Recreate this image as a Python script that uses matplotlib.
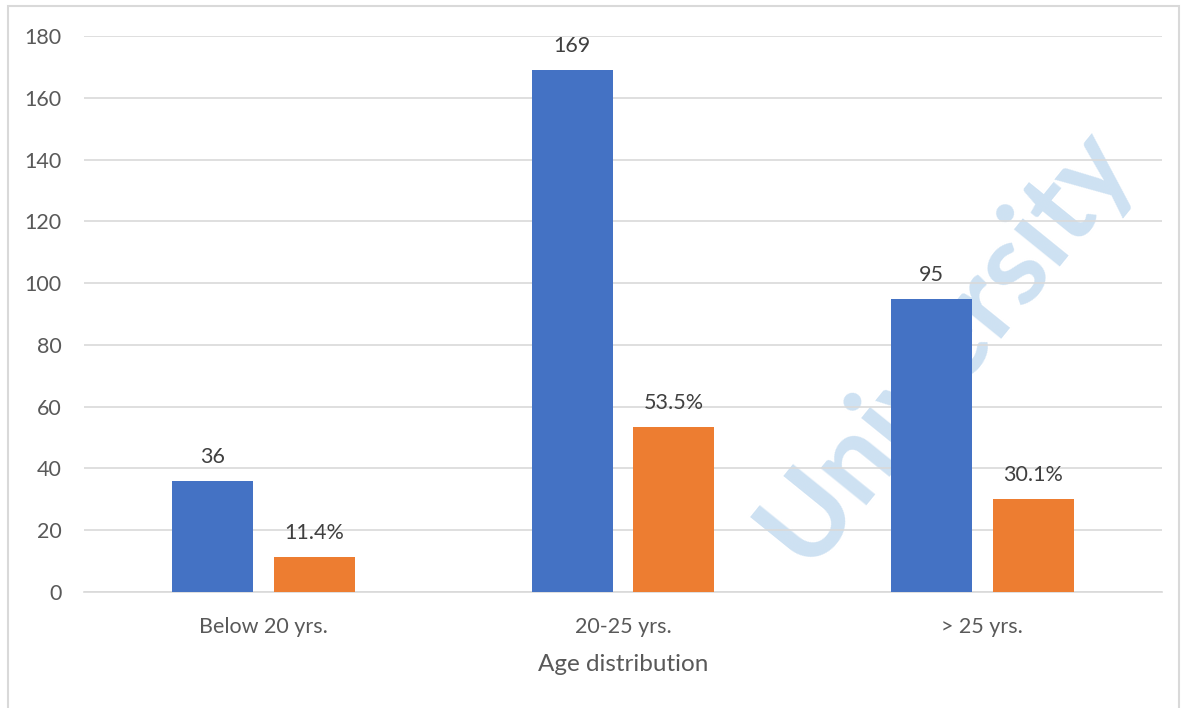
import matplotlib
matplotlib.use("Agg")
import matplotlib.pyplot as plt
from matplotlib.patches import Rectangle
import numpy as np

# Age groups and the two series
categories = ["Below 20 yrs.", "20-25 yrs.", "> 25 yrs."]
counts = [36, 169, 95]
percents = [11.4, 53.5, 30.1]
y_ticks = [0, 20, 40, 60, 80, 100, 120, 140, 160, 180]
x_title = "Age distribution"

plt.rcParams["font.family"] = ["Lato", "DejaVu Sans"]

fig = plt.figure(figsize=(11.82, 7.08), dpi=100)
ax = fig.add_axes([0.0711, 0.1638, 0.9120, 0.7853])

# Outer chart frame
fig.patches.append(Rectangle((8 / 1182, -0.02), (1179 - 8) / 1182, 1.02 - 6 / 708,
                             transform=fig.transFigure, fill=False,
                             edgecolor="#d9d9d9", linewidth=1.5, zorder=0))

x = np.arange(len(categories))
bw = 0.2255
gap = 0.058
off = (bw + gap) / 2

blue = "#4472c4"
orange = "#ed7d31"

bars1 = ax.bar(x - off, counts, width=bw, color=blue, zorder=3)
bars2 = ax.bar(x + off, percents, width=bw, color=orange, zorder=3)

for b, v in zip(bars1, counts):
    ax.annotate(f"{v}", (b.get_x() + b.get_width() / 2, v), xytext=(0, 10),
                textcoords="offset points", ha="center", va="bottom",
                fontsize=15.5, color="#404040", zorder=4)
for b, v in zip(bars2, percents):
    ax.annotate(f"{v:.1f}%", (b.get_x() + b.get_width() / 2, v), xytext=(0, 10),
                textcoords="offset points", ha="center", va="bottom",
                fontsize=15.5, color="#404040", zorder=4)

ax.set_xlim(-0.5, len(categories) - 0.5)
ax.set_ylim(0, 180)
ax.set_yticks(y_ticks)
ax.set_xticks(x)
ax.set_xticklabels(categories)
ax.tick_params(axis="both", length=0, labelsize=15.5, colors="#595959")
ax.tick_params(axis="x", pad=18)
ax.tick_params(axis="y", pad=16)
ax.grid(axis="y", color="#d9d9d9", linewidth=1.2, zorder=0)
ax.set_axisbelow(True)
for s in ["top", "right", "left"]:
    ax.spines[s].set_visible(False)
ax.spines["bottom"].set_color("#d9d9d9")
ax.spines["bottom"].set_linewidth(1.2)

ax.set_xlabel(x_title, fontsize=17.5, color="#595959", labelpad=12)

# Faint background watermark
fig.text(0.800, 0.513, "University", fontsize=82, fontweight="bold",
         color="#bdd7ee", alpha=0.75, rotation=51, ha="center", va="center",
         zorder=1)
ax.set_zorder(2)
ax.patch.set_alpha(0)

fig.savefig("out.png", dpi=100, facecolor="white")
